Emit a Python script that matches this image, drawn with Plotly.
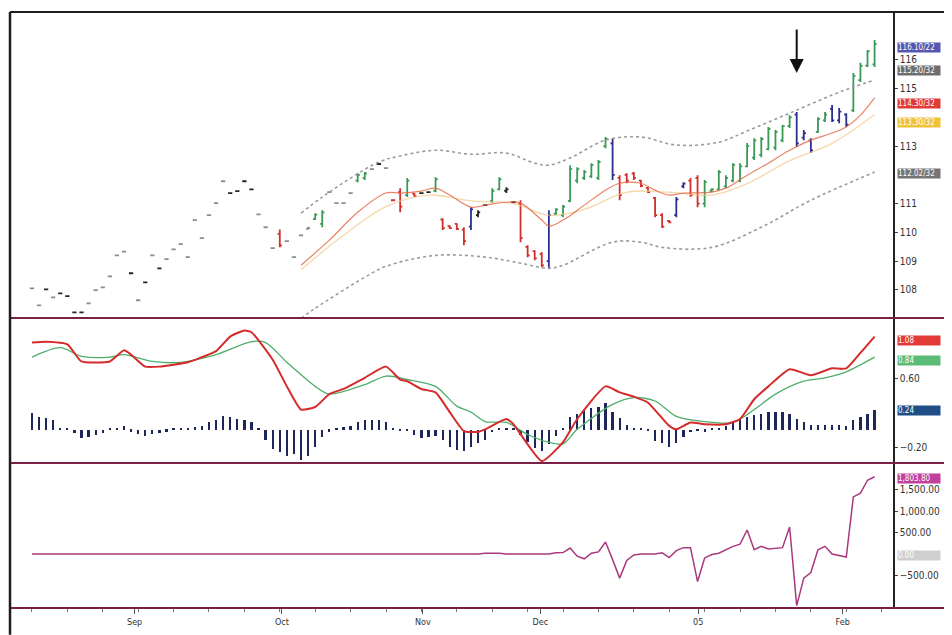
import plotly.graph_objects as go
from plotly.subplots import make_subplots

# ---- price bars (one per trading day, index 0..119) ----
bar_open = [
    108.05, 107.46, 108.02, 107.74, 107.88, 107.78, 107.22, 107.22, 107.53, 107.99,
    108.09, 108.47, 109.20, 109.33, 108.58, 107.64, 108.26, 109.20, 108.75, 109.07,
    109.41, 109.59, 109.14, 110.43, 109.80, 110.60, 111.02, 111.78, 111.37, 111.44,
    111.78, 111.50, 110.63, 110.18, 109.45, 109.95, 109.70, 109.14, 109.90, 110.12,
    110.46, 110.30, 111.40, 111.02, 111.02, 111.37, 111.80, 111.90, 112.20, 112.38,
    112.24, 111.12, 111.40, 111.30, 111.35, 111.37, 111.40, 111.45, 110.45, 110.22,
    110.30, 110.10, 110.20, 110.60, 110.95, 111.10, 111.50, 111.45, 111.05, 111.00,
    109.50, 109.35, 109.25, 109.00, 110.65, 110.60, 111.10, 111.80, 111.90, 111.95,
    111.90, 113.00, 113.10, 111.90, 112.00, 112.05, 111.80, 111.55, 111.20, 110.60,
    110.40, 110.60, 111.60, 111.80, 111.90, 111.00, 111.45, 111.50, 111.60, 111.80,
    111.80, 112.30, 112.60, 112.70, 112.90, 112.95, 113.20, 113.70, 114.10, 113.30,
    113.20, 113.50, 113.90, 114.30, 113.90, 114.10, 114.25, 115.30, 115.80, 115.85,
]
bar_high = [
    108.05, 107.46, 108.02, 107.74, 107.88, 107.78, 107.22, 107.22, 107.53, 107.99,
    108.09, 108.47, 109.20, 109.33, 108.58, 107.64, 108.26, 109.20, 108.75, 109.07,
    109.41, 109.59, 109.14, 110.43, 109.80, 110.60, 111.02, 111.78, 111.37, 111.44,
    111.78, 111.50, 110.63, 110.18, 109.45, 110.10, 109.70, 109.14, 109.90, 110.20,
    110.67, 110.77, 111.40, 111.02, 111.02, 111.37, 112.06, 112.10, 112.20, 112.38,
    112.24, 111.12, 111.54, 111.89, 111.37, 111.37, 111.40, 111.92, 110.49, 110.25,
    110.32, 110.18, 110.88, 110.77, 110.95, 111.54, 111.92, 111.57, 111.05, 111.12,
    109.55, 109.38, 109.31, 110.77, 110.84, 110.95, 112.34, 112.27, 112.17, 112.41,
    112.52, 113.32, 113.28, 111.99, 112.06, 112.10, 111.82, 111.57, 111.23, 110.67,
    110.43, 111.23, 111.75, 111.89, 111.99, 111.82, 111.54, 112.17, 111.99, 112.41,
    112.41, 113.11, 113.28, 113.32, 113.67, 113.56, 113.74, 114.08, 114.19, 113.56,
    113.28, 114.01, 114.19, 114.43, 114.33, 114.15, 115.55, 115.90, 116.35, 116.70,
]
bar_low = [
    108.05, 107.46, 108.02, 107.74, 107.88, 107.78, 107.22, 107.22, 107.53, 107.99,
    108.09, 108.47, 109.20, 109.33, 108.58, 107.64, 108.26, 109.20, 108.75, 109.07,
    109.41, 109.59, 109.14, 110.43, 109.80, 110.60, 111.02, 111.78, 111.37, 111.44,
    111.78, 111.50, 110.63, 110.18, 109.45, 109.48, 109.70, 109.14, 109.90, 110.10,
    110.43, 110.18, 111.40, 111.02, 111.02, 111.37, 111.75, 111.82, 112.20, 112.38,
    112.24, 111.12, 110.70, 111.23, 111.23, 111.37, 111.40, 111.40, 110.08, 110.12,
    110.08, 109.55, 110.08, 110.53, 110.95, 111.02, 111.47, 111.37, 111.05, 109.66,
    109.14, 109.03, 108.79, 108.75, 110.60, 110.53, 111.05, 111.71, 111.82, 111.89,
    111.82, 112.93, 111.82, 111.12, 111.71, 111.82, 111.57, 111.37, 110.53, 110.15,
    110.32, 110.53, 111.54, 111.23, 110.88, 110.88, 111.40, 111.47, 111.54, 111.75,
    111.75, 112.27, 112.52, 112.62, 112.86, 112.86, 113.14, 113.63, 112.97, 113.21,
    112.76, 113.46, 113.84, 113.84, 113.80, 113.67, 114.19, 115.23, 115.76, 115.76,
]
bar_close = [
    108.05, 107.46, 108.02, 107.74, 107.88, 107.78, 107.22, 107.22, 107.53, 107.99,
    108.09, 108.47, 109.20, 109.33, 108.58, 107.64, 108.26, 109.20, 108.75, 109.07,
    109.41, 109.59, 109.14, 110.43, 109.80, 110.60, 111.02, 111.78, 111.37, 111.44,
    111.78, 111.50, 110.63, 110.18, 109.45, 109.55, 109.70, 109.14, 109.90, 110.15,
    110.62, 110.70, 111.40, 111.02, 111.02, 111.37, 112.00, 112.05, 112.20, 112.38,
    112.24, 111.12, 110.90, 111.80, 111.26, 111.37, 111.40, 111.85, 110.15, 110.15,
    110.12, 109.70, 110.80, 110.70, 110.95, 111.45, 111.85, 111.50, 111.05, 109.80,
    109.20, 109.10, 108.85, 110.60, 110.80, 110.90, 112.20, 112.20, 112.10, 112.35,
    112.45, 113.25, 112.00, 111.30, 111.80, 111.90, 111.62, 111.40, 110.60, 110.20,
    110.35, 111.15, 111.70, 111.30, 111.00, 111.75, 111.50, 112.10, 111.90, 112.35,
    112.30, 113.00, 113.20, 113.25, 113.60, 113.50, 113.70, 114.00, 113.10, 113.45,
    112.85, 113.95, 114.10, 113.90, 114.20, 113.75, 115.45, 115.80, 116.30, 116.55,
]
# impulse colour of each bar: l=light, k=black, g=green, r=red, b=blue
bar_impulse = ("llklkkkkll" "llllklklkl" "llllllllkk" "kklllrllll" "ggllllgglk"
               "lrrgrkkgrr" "rrbkkggkkr" "rrrbgggggg" "ggbrrrrrrr" "rbbrrggggg"
               "ggggggggbb" "bggbbbgggg")

# ---- moving averages and envelope (read at sample bars) ----
ma_x = [38, 42, 46, 50, 52, 55, 57, 59, 62, 64, 67, 69, 72, 73, 75, 78, 81, 83, 86, 88,
        90, 92, 96, 98, 101, 104, 107, 110, 113, 115, 117, 119]
ma_fast = [108.86, 109.73, 110.70, 111.37, 111.37, 111.44, 111.54, 111.30, 110.88, 110.95,
           111.05, 111.02, 110.43, 110.22, 110.43, 110.95, 111.47, 111.71, 111.71, 111.47,
           111.30, 111.37, 111.40, 111.54, 111.99, 112.41, 112.86, 113.21, 113.46, 113.67,
           114.08, 114.68]
slow_x = [38, 44, 50, 56, 62, 68, 73, 78, 84, 90, 96, 101, 107, 113, 119]
ma_slow = [108.70, 109.90, 110.90, 111.30, 111.10, 111.00, 110.60, 110.80, 111.40, 111.40,
           111.30, 111.70, 112.50, 113.10, 114.10]
band_up_x = [38, 41, 45, 49, 52, 57, 62, 67, 71, 73, 76, 81, 86, 91, 97, 101, 107, 113, 116, 119]
band_up = [110.67, 111.23, 111.89, 112.45, 112.66, 112.86, 112.72, 112.76, 112.41, 112.34,
           112.59, 113.21, 113.32, 113.04, 113.14, 113.53, 114.15, 114.78, 115.06, 115.30]
band_lo_x = [38, 40, 47, 50, 57, 64, 69, 73, 75, 82, 86, 89, 96, 103, 110, 119]
band_lo = [107.01, 107.36, 108.44, 108.82, 109.20, 109.14, 108.93, 108.75, 108.86, 109.66,
           109.66, 109.48, 109.48, 110.18, 111.12, 112.10]

# ---- MACD panel ----
macd_x = [0, 2, 5, 7, 11, 13, 14, 16, 18, 22, 24, 26, 28, 30, 31, 34, 36, 38, 40, 42,
          44, 47, 50, 52, 53, 55, 57, 59, 61, 63, 64, 67, 68, 72, 75, 77, 81, 83, 85, 87,
          90, 91, 93, 95, 98, 100, 102, 104, 107, 110, 113, 115, 117, 119]
macd_line = [1.02, 1.03, 1.00, 0.80, 0.80, 0.93, 0.88, 0.74, 0.74, 0.79, 0.85, 0.92, 1.09,
             1.16, 1.14, 0.82, 0.51, 0.24, 0.27, 0.42, 0.48, 0.61, 0.74, 0.59, 0.57, 0.48,
             0.44, 0.21, -0.01, -0.02, 0.01, 0.13, 0.07, -0.36, -0.14, 0.13, 0.51, 0.44,
             0.39, 0.32, 0.05, 0.01, 0.09, 0.07, 0.07, 0.13, 0.36, 0.51, 0.71, 0.64, 0.72,
             0.72, 0.90, 1.09]
sig_x = [0, 4, 7, 11, 13, 17, 21, 26, 31, 33, 36, 40, 42, 47, 50, 53, 57, 60, 62, 64, 67,
         70, 73, 75, 77, 82, 85, 88, 91, 95, 99, 102, 105, 109, 112, 115, 119]
signal_line = [0.85, 0.96, 0.86, 0.85, 0.88, 0.80, 0.79, 0.88, 1.03, 1.02, 0.79, 0.51, 0.42,
               0.53, 0.63, 0.59, 0.51, 0.28, 0.21, 0.10, 0.09, -0.05, -0.14, -0.16, 0.01,
               0.30, 0.38, 0.34, 0.16, 0.10, 0.09, 0.24, 0.42, 0.57, 0.61, 0.68, 0.85]
macd_hist = [
    0.20, 0.15, 0.14, 0.12, 0.02, 0.02, -0.04, -0.09, -0.08, -0.06,
    -0.04, 0.01, 0.02, 0.04, -0.02, -0.05, -0.07, -0.05, -0.04, -0.02,
    0.02, 0.01, 0.01, 0.03, 0.05, 0.09, 0.12, 0.16, 0.15, 0.13,
    0.12, 0.09, 0.02, -0.12, -0.22, -0.26, -0.30, -0.28, -0.35, -0.30,
    -0.20, -0.08, -0.02, 0.01, 0.03, 0.05, 0.09, 0.11, 0.12, 0.11,
    0.09, 0.01, -0.01, -0.01, -0.06, -0.09, -0.08, -0.07, -0.12, -0.20,
    -0.23, -0.25, -0.20, -0.15, -0.12, -0.03, 0.02, 0.02, 0.01, -0.06,
    -0.14, -0.21, -0.25, -0.17, -0.07, 0.02, 0.15, 0.19, 0.23, 0.25,
    0.27, 0.31, 0.21, 0.14, 0.06, 0.02, 0.02, -0.01, -0.13, -0.15,
    -0.20, -0.15, -0.08, -0.03, -0.01, -0.02, 0.02, 0.01, 0.05, 0.09,
    0.13, 0.15, 0.17, 0.19, 0.21, 0.21, 0.21, 0.19, 0.13, 0.09,
    0.06, 0.06, 0.06, 0.06, 0.06, 0.05, 0.11, 0.15, 0.19, 0.23,
]

# ---- bottom panel ----
force_index = [
    0, 0, 0, 0, 0, 0, 0, 0, 0, 0,
    0, 0, 0, 0, 0, 0, 0, 0, 0, 0,
    0, 0, 0, 0, 0, 0, 0, 0, 0, 0,
    0, 0, 0, 0, 0, 0, 0, 0, 0, 0,
    0, 0, 0, 0, 0, 0, 0, 0, 0, 0,
    0, 0, 0, 0, 0, 0, 0, 0, 0, 0,
    0, 0, 0, 0, 20, 20, 20, 0, 0, 0,
    0, 0, 0, 0, 30, 35, 140, -50, -110, 20,
    50, 280, -130, -560, -150, -20, 0, 0, 0, 30,
    -80, 80, 150, 150, -640, -90, -10, 20, 100, 180,
    230, 560, 100, 180, 120, 140, 150, 630, -1200, -560,
    -430, 100, 180, 0, -30, -70, 1330, 1420, 1720, 1800,
]

month_pos = [14.5, 35.3, 55.2, 71.8, 94.1, 114.5]
month_labels = ["Sep", "Oct", "Nov", "Dec", "05", "Feb"]

# axis labels that are visible (the others sit under the value tags)
price_ticks = [108, 109, 110, 111, 113, 115, 116]
macd_ticks = [-0.2, 0.6]
force_ticks = [-500, 500, 1000, 1500]

# last-value tags on the right axis
tag_text = ["116.10/22", "115.20/32", "114.30/32", "113.30/32", "112.02/32",
            "1.08", "0.84", "0.24", "1,803.80", "0.00"]
tag_y = [116.44, 115.62, 114.50, 113.84, 112.06, 1.047, 0.814, 0.233, 1768, -23]
tag_ref = ["y", "y", "y", "y", "y", "y2", "y2", "y2", "y3", "y3"]
tag_colour = ["#5457b0", "#6e6e6e", "#e23a36", "#f0c23a", "#747474",
              "#e23a36", "#5dbb78", "#1f4f86", "#c23f9c", "#cfcfcf"]

impulse_colours = {'l': '#8c8c8c', 'k': '#262626', 'g': '#3a9a55', 'r': '#d3302c', 'b': '#2c2f8e'}
axis_font = dict(family="Liberation Sans Narrow, DejaVu Sans Condensed, Arial Narrow, sans-serif",
                 size=10, color="#333333")

fig = make_subplots(rows=3, cols=1, shared_xaxes=True, vertical_spacing=0,
                    row_heights=[0.514, 0.243, 0.243])

# envelope + averages under the bars
fig.add_trace(go.Scatter(x=band_up_x, y=band_up, mode='lines',
                         line=dict(color='#9c9c9c', width=1.6, dash='dot', shape='spline')), row=1, col=1)
fig.add_trace(go.Scatter(x=band_lo_x, y=band_lo, mode='lines',
                         line=dict(color='#9c9c9c', width=1.6, dash='dot', shape='spline')), row=1, col=1)
fig.add_trace(go.Scatter(x=slow_x, y=ma_slow, mode='lines', opacity=0.7,
                         line=dict(color='#f3c98a', width=1.3, shape='spline')), row=1, col=1)
fig.add_trace(go.Scatter(x=ma_x, y=ma_fast, mode='lines', opacity=0.8,
                         line=dict(color='#e5643f', width=1.2, shape='spline')), row=1, col=1)

for code, colour in impulse_colours.items():
    idx = [i for i, c in enumerate(bar_impulse) if c == code]
    fig.add_trace(go.Ohlc(x=idx,
                          open=[bar_open[i] for i in idx],
                          high=[bar_high[i] for i in idx],
                          low=[bar_low[i] for i in idx],
                          close=[bar_close[i] for i in idx],
                          increasing_line_color=colour, decreasing_line_color=colour,
                          line_width=1.8, tickwidth=0.3), row=1, col=1)

fig.add_trace(go.Bar(x=list(range(len(macd_hist))), y=macd_hist, width=0.32,
                     marker=dict(color='#1c2658', line_width=0)), row=2, col=1)
fig.add_trace(go.Scatter(x=sig_x, y=signal_line, mode='lines',
                         line=dict(color='#4fae6c', width=1.3, shape='spline', smoothing=0.8)), row=2, col=1)
fig.add_trace(go.Scatter(x=macd_x, y=macd_line, mode='lines',
                         line=dict(color='#d52b2b', width=2, shape='spline', smoothing=0.5)), row=2, col=1)

fig.add_trace(go.Scatter(x=list(range(len(force_index))), y=force_index, mode='lines',
                         line=dict(color='#a8397c', width=1.5)), row=3, col=1)

fig.update_xaxes(range=[-3.1, 121.6], showgrid=False, zeroline=False,
                 rangeslider_visible=False, showticklabels=False)
fig.update_xaxes(row=3, col=1, showticklabels=True, tickmode='array',
                 tickvals=month_pos, ticktext=month_labels, ticks='outside', ticklen=5,
                 tickcolor='#555', tickfont=dict(axis_font, size=9),
                 minor=dict(tickmode='linear', tick0=0, dtick=5, ticks='outside',
                            ticklen=3, tickcolor='#777'))

fig.update_yaxes(side='right', showgrid=False, zeroline=False, showline=True,
                 linecolor='#222', linewidth=1.5, ticks='outside', ticklen=3,
                 tickcolor='#444', tickfont=axis_font)
fig.update_yaxes(row=1, col=1, range=[107.01, 117.67], tickvals=price_ticks)
fig.update_yaxes(row=2, col=1, range=[-0.384, 1.302], tickvals=macd_ticks, tickformat='.2f')
fig.update_yaxes(row=3, col=1, range=[-1256, 2117], tickvals=force_ticks, tickformat=',.2f')

frame_shapes = [
    dict(type='line', xref='paper', yref='paper', x0=0, x1=1.07, y0=0.4866, y1=0.4866,
         line=dict(color='#7b2145', width=2)),
    dict(type='line', xref='paper', yref='paper', x0=0, x1=1.07, y0=0.2433, y1=0.2433,
         line=dict(color='#7b2145', width=2)),
    dict(type='line', xref='paper', yref='paper', x0=0, x1=1.07, y0=0, y1=0,
         line=dict(color='#7b2145', width=2)),
    dict(type='line', xref='paper', yref='paper', x0=0, x1=1.07, y0=1, y1=1,
         line=dict(color='#1e1e1e', width=2)),
    dict(type='line', xref='paper', yref='paper', x0=0, x1=0, y0=-0.045, y1=1,
         line=dict(color='#1e1e1e', width=2.5)),
]

annotations = []
for text, y, ref, colour in zip(tag_text, tag_y, tag_ref, tag_colour):
    annotations.append(dict(text=text, x=1, xref='paper', y=y, yref=ref, xanchor='left',
                            yanchor='middle', xshift=4, showarrow=False, bgcolor=colour,
                            width=42, height=9, align='left', borderpad=0,
                            font=dict(family=axis_font['family'], size=8, color='white')))
# the arrow above the reversal bar
annotations.append(dict(x=108, y=115.55, xref='x', yref='y', text='', showarrow=True,
                        ax=0, ay=-45, arrowhead=2, arrowsize=1.4, arrowwidth=2,
                        arrowcolor='#111111'))

# the page body adds an 8px offset, so the figure is sized to keep the frame in place
fig.update_layout(
    width=944,
    height=627,
    autosize=False,
    margin=dict(l=2, r=59, t=4, b=27),
    plot_bgcolor='white',
    paper_bgcolor='white',
    showlegend=False,
    hovermode=False,
    bargap=0,
    shapes=frame_shapes,
    annotations=annotations,
)

fig.write_html("out.html")
